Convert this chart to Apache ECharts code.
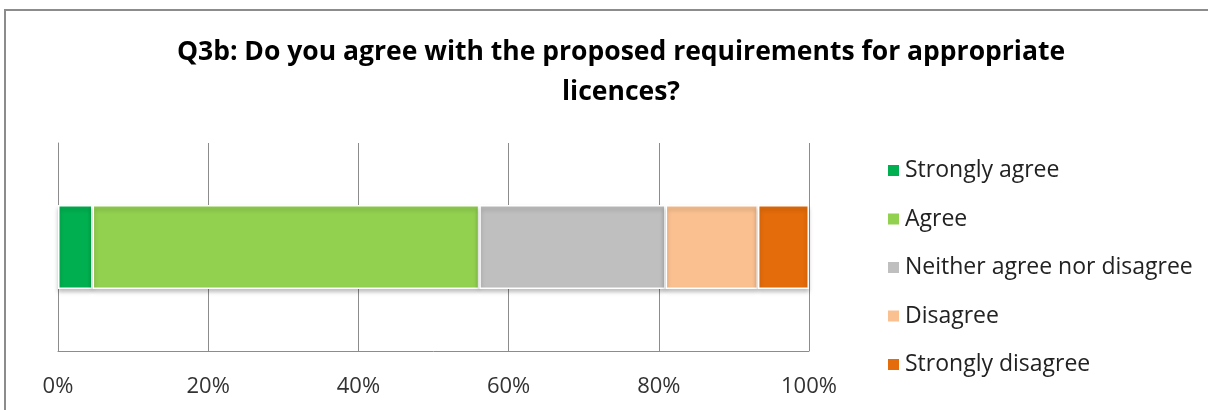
<!DOCTYPE html>
<html>
<head>
<meta charset="utf-8">
<style>
  html, body { margin: 0; padding: 0; background: #fff; }
  #chart { width: 1208px; height: 410px; }
</style>
<script src="https://cdn.jsdelivr.net/npm/echarts@6/dist/echarts.min.js"></script>
</head>
<body>
<div id="chart"></div>
<script>
// 数据
const categories = ['Q3b']
const seriesNames = ['Strongly agree', 'Agree', 'Neither agree nor disagree', 'Disagree', 'Strongly disagree']
const seriesValues = [[4.6], [51.5], [24.8], [12.3], [6.8]]
const seriesColors = ['#00b050', '#92d050', '#bfbfbf', '#fac090', '#e46c0a']
const tickLabels = ['0%', '20%', '40%', '60%', '80%', '100%']

const font = 'Open Sans'

const chart = echarts.init(document.getElementById('chart'))

const option = {
  animation: false,
  graphic: [{
    type: 'rect',
    shape: { x: 5, y: 10, width: 1230, height: 430 },
    style: { fill: 'none', stroke: '#8c8c8c', lineWidth: 2 }
  }],
  title: {
    text: 'Q3b: Do you agree with the proposed requirements for appropriate\nlicences?',
    left: 616,
    top: 27,
    textAlign: 'center',
    textStyle: {
      fontFamily: font,
      fontWeight: 'bold',
      fontSize: 26.5,
      lineHeight: 40,
      color: '#000'
    }
  },
  legend: {
    orient: 'vertical',
    left: 881,
    top: 154,
    itemWidth: 13,
    itemHeight: 13,
    itemGap: 25.5,
    icon: 'rect',
    textStyle: { fontFamily: font, fontSize: 23, color: '#222' },
    data: seriesNames
  },
  grid: { left: 58, right: 399, top: 143, bottom: 59 },
  xAxis: {
    type: 'value',
    min: 0,
    max: 100,
    interval: 20,
    axisLine: { show: true, lineStyle: { color: '#8c8c8c' } },
    axisTick: { show: false },
    splitLine: { lineStyle: { color: '#8c8c8c' } },
    axisLabel: {
      margin: 25,
      fontFamily: font,
      fontSize: 22,
      color: '#333',
      formatter: (v) => tickLabels[v / 20]
    }
  },
  yAxis: {
    type: 'category',
    data: categories,
    axisLine: { show: true, lineStyle: { color: '#8c8c8c' } },
    axisTick: { show: false },
    axisLabel: { show: false }
  },
  series: seriesNames.map((name, i) => ({
    name,
    type: 'bar',
    stack: 'total',
    barWidth: 84,
    data: seriesValues[i],
    itemStyle: {
      color: seriesColors[i],
      borderColor: '#fff',
      borderWidth: 1.5,
      shadowColor: 'rgba(0,0,0,0.25)',
      shadowBlur: 4,
      shadowOffsetY: 3
    }
  }))
}

chart.setOption(option)
</script>
</body>
</html>
